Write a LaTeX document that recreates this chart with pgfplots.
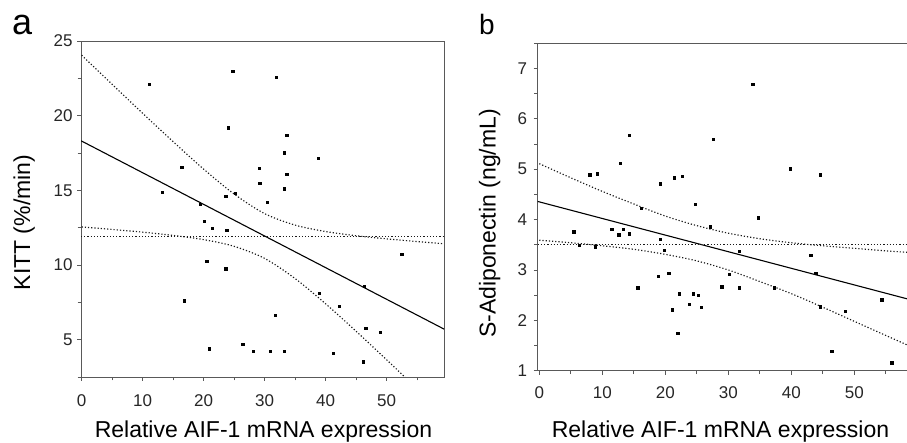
\documentclass[border=0pt]{standalone}
\usepackage{fontspec}
\setmainfont{Liberation Sans}
\usepackage{pgfplots}
\pgfplotsset{compat=1.18}
\usepackage{pgfplotstable}

% scatter data
\pgfplotstableread{
x y
11.08 22.11
24.75 23.0
31.85 22.58
24.04 19.19
33.6 18.7
33.16 17.52
38.8 17.14
16.39 16.56
29.1 16.47
33.6 16.1
29.2 15.49
33.2 15.11
13.2 14.89
25.2 14.83
23.6 14.63
30.4 14.22
19.45 14.09
20.05 12.95
21.4 12.46
23.77 12.31
20.5 10.24
23.6 9.75
52.46 10.73
16.77 7.61
38.9 8.1
42.2 7.23
46.3 8.56
31.7 6.63
46.55 5.78
48.9 5.49
20.87 4.4
26.4 4.71
28.1 4.22
30.9 4.22
33.2 4.22
41.25 4.11
46.2 3.53
}\kitt

\pgfplotstableread{
x y
33.87 6.69
14.29 5.67
27.57 5.59
12.86 5.12
39.84 5.01
8.0 4.89
9.16 4.91
44.56 4.89
19.16 4.71
21.43 4.83
22.7 4.86
24.76 4.31
16.14 4.22
34.76 4.04
27.1 3.86
5.46 3.76
11.49 3.81
13.33 3.81
12.6 3.70
14.29 3.72
19.16 3.61
6.3 3.49
8.84 3.46
19.84 3.39
18.9 2.88
20.54 2.94
15.62 2.65
22.17 2.53
24.45 2.53
25.24 2.50
23.81 2.32
25.67 2.26
21.06 2.21
21.97 1.75
28.95 2.67
30.16 2.92
43.08 3.29
31.75 3.37
31.75 2.65
37.25 2.65
43.87 2.94
44.56 2.27
48.52 2.18
54.35 2.41
46.4 1.39
55.94 1.16
}\adipo

\pgfplotsset{
  spssframe/.style={
    scale only axis, anchor=south west,
    tick pos=left, tick align=outside,
    major tick length=4pt, minor tick length=3.5pt,
    axis line style={black!65, line width=0.9pt},
    every tick/.style={black!65, line width=0.8pt},
    tick label style={black!85, font=\fontsize{17}{17}\selectfont},
    /pgf/number format/assume math mode=true,
    clip=true,
  },
  dots/.style={only marks, mark=square*, mark size=1.15pt, black},
  fit/.style={black, line width=1.1pt, no marks},
  ci/.style={black!90, line width=1.15pt, dash pattern=on 1.2pt off 2pt, no marks},
}

\begin{document}
\begin{tikzpicture}
\path[use as bounding box] (0,0) rectangle (907pt,443pt);

% ---- panel a ----
\begin{axis}[spssframe,
    at={(81pt,66pt)}, width=363pt, height=336pt,
    xmin=-0.1, xmax=59.4, ymin=2.5, ymax=25,
    xtick={0,10,...,50}, minor xtick={5,15,...,55},
    ytick={5,10,...,25}, minor ytick={2.5,7.5,...,22.5},
    xticklabel style={yshift=-10pt},
    yticklabel style={xshift=-1pt},
]
\addplot[dots] table {\kitt};
\addplot[fit] coordinates {(-0.1,18.32) (59.4,5.71)};
\addplot[ci, smooth] coordinates {
  (0,24.05) (5,22.10) (10,20.16) (15,18.26) (20,16.42) (25,14.75) (30,13.44)
  (35,12.67) (40,12.24) (45,11.96) (50,11.75) (55,11.57) (59.4,11.42)};
\addplot[ci, smooth] coordinates {
  (0,12.55) (5,12.38) (10,12.20) (15,11.98) (20,11.70) (25,11.25) (30,10.44)
  (35,9.09) (40,7.40) (45,5.56) (50,3.65) (55,1.71) (59.4,0)};
\addplot[ci] coordinates {(-0.1,11.93) (59.4,11.93)};
\end{axis}

% ---- panel b ----
\begin{axis}[spssframe,
    at={(537.7pt,72.3pt)}, width=376.4pt, height=327.4pt,
    xmin=-0.25, xmax=59.5, ymin=1, ymax=7.5,
    xtick={0,10,...,50}, minor xtick={5,15,...,55},
    ytick={1,...,7}, minor ytick={1.5,2.5,...,7.5},
    xticklabel style={yshift=-8pt},
    yticklabel style={xshift=-3pt},
]
\addplot[dots] table {\adipo};
\addplot[fit] coordinates {(-0.25,4.36) (59.5,2.39)};
\addplot[ci, smooth] coordinates {
  (0,5.11) (5,4.83) (10,4.56) (15,4.31) (20,4.07) (25,3.88) (30,3.73)
  (35,3.62) (40,3.54) (45,3.48) (50,3.43) (55,3.38) (59.5,3.34)};
\addplot[ci, smooth] coordinates {
  (0,3.59) (5,3.54) (10,3.48) (15,3.41) (20,3.31) (25,3.18) (30,3.00)
  (35,2.77) (40,2.53) (45,2.26) (50,1.98) (55,1.70) (59.5,1.45)};
\addplot[ci] coordinates {(-0.25,3.51) (59.5,3.51)};
\end{axis}

% axis titles and panel letters
\node[anchor=base, font=\fontsize{23}{23}\selectfont] at (263.5pt,5pt) {Relative AIF-1 mRNA expression};
\node[anchor=base, font=\fontsize{23}{23}\selectfont] at (720.5pt,5pt) {Relative AIF-1 mRNA expression};
\node[anchor=base, rotate=90, font=\fontsize{23}{23}\selectfont] at (30pt,220.5pt) {KITT (\%/min)};
\node[anchor=base, rotate=90, font=\fontsize{23}{23}\selectfont] at (495.5pt,219.5pt) {S-Adiponectin (ng/mL)};
\node[anchor=base west, inner sep=0pt, font=\fontsize{36}{36}\selectfont] at (12pt,408pt) {a};
\node[anchor=base west, inner sep=0pt, font=\fontsize{28}{28}\selectfont] at (479pt,408pt) {b};
\end{tikzpicture}
\end{document}
